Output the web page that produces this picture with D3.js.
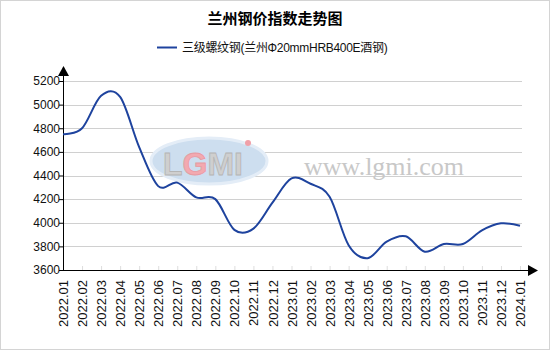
<!DOCTYPE html>
<html>
<head>
<meta charset="utf-8">
<script src="https://cdn.jsdelivr.net/npm/d3@7"></script>
<style>
  body { margin: 0; background: #fff; }
  svg { display: block; font-family: Arial, "Liberation Sans", "Noto Sans CJK SC", sans-serif; }
</style>
</head>
<body>
<div id="chart"></div>
<script>
const months = ["2022.01","2022.02","2022.03","2022.04","2022.05","2022.06","2022.07","2022.08",
  "2022.09","2022.10","2022.11","2022.12","2023.01","2023.02","2023.03","2023.04","2023.05",
  "2023.06","2023.07","2023.08","2023.09","2023.10","2023.11","2023.12","2024.01"];
const prices = [4750, 4800, 5075, 5065, 4640, 4310, 4340, 4215, 4200, 3940, 3950, 4170, 4375,
  4330, 4220, 3810, 3700, 3840, 3885, 3755, 3820, 3820, 3935, 3995, 3975];
const yTicks = [3600, 3800, 4000, 4200, 4400, 4600, 4800, 5000, 5200];
const seriesName = "三级螺纹钢(兰州Φ20mmHRB400E酒钢)";
const title = "兰州钢价指数走势图";

const width = 550, height = 350;
const x0 = 63, x1 = 520, yTop = 81, yBot = 270;

const svg = d3.select("#chart").append("svg")
  .attr("width", width)
  .attr("height", height);

svg.append("rect")
  .attr("x", 0.5).attr("y", 0.5)
  .attr("width", width - 1).attr("height", height - 1)
  .attr("fill", "#fff").attr("stroke", "#d4d4d4");

const x = d3.scalePoint().domain(months).range([x0, x1]);
const y = d3.scaleLinear().domain([3600, 5200]).range([yBot, yTop]);

// grid
svg.append("g")
  .selectAll("line")
  .data(yTicks.slice(1))
  .enter().append("line")
  .attr("x1", x0).attr("x2", 522)
  .attr("y1", d => Math.round(y(d)) + 0.5)
  .attr("y2", d => Math.round(y(d)) + 0.5)
  .attr("stroke", "#d0d0d0");

// watermark
const wm = svg.append("g");
wm.append("ellipse")
  .attr("cx", 209).attr("cy", 161).attr("rx", 58).attr("ry", 23)
  .attr("fill", "#cddeef").attr("stroke", "#e4edf7").attr("stroke-width", 3);
const logo = wm.append("text")
  .attr("x", 163).attr("y", 175)
  .attr("font-family", "Liberation Sans, Arial")
  .attr("font-weight", "bold")
  .attr("font-size", 32)
  .attr("stroke", "#b5b5b5")
  .attr("stroke-width", 0.8);
logo.append("tspan").attr("fill", "#cfcfcf").text("L");
logo.append("tspan").attr("fill", "#f3a9b0").attr("stroke", "#e79aa2").text("G");
logo.append("tspan").attr("fill", "#cfcfcf").text("MI");
wm.append("circle")
  .attr("cx", 248).attr("cy", 143).attr("r", 3)
  .attr("fill", "#f0a0a8");
wm.append("text")
  .attr("x", 304).attr("y", 175)
  .attr("font-family", "Liberation Serif, Times New Roman, serif")
  .attr("font-size", 26)
  .attr("fill", "#c8c8c8")
  .text("www.lgmi.com");

// axes
const yAxis = d3.axisLeft(y).tickValues(yTicks).tickSize(4).tickFormat(d3.format("d"));
const gy = svg.append("g")
  .attr("transform", `translate(${x0},0)`)
  .call(yAxis);
gy.select(".domain").remove();
gy.selectAll(".tick line").attr("stroke", "#000");
gy.selectAll(".tick text")
  .attr("x", -3)
  .attr("font-size", 12)
  .attr("fill", "#111");

const xAxis = d3.axisBottom(x).tickSize(4);
const gx = svg.append("g")
  .attr("transform", `translate(0,${yBot})`)
  .call(xAxis);
gx.select(".domain").remove();
gx.selectAll(".tick line").attr("stroke", "#ddd").attr("y2", -4);
gx.selectAll(".tick text")
  .attr("transform", "rotate(-90)")
  .attr("x", -10).attr("y", 0).attr("dy", "0.35em")
  .attr("text-anchor", "end")
  .attr("font-size", 13)
  .attr("fill", "#111");

svg.append("line")
  .attr("x1", x0 + 0.5).attr("x2", x0 + 0.5)
  .attr("y1", yBot).attr("y2", 72)
  .attr("stroke", "#000");
svg.append("path")
  .attr("d", `M${x0 + 0.5},66 L${x0 - 5},76 L${x0 + 6},76 Z`)
  .attr("fill", "#000");
svg.append("line")
  .attr("x1", x0).attr("x2", 530)
  .attr("y1", yBot + 0.5).attr("y2", yBot + 0.5)
  .attr("stroke", "#000");
svg.append("path")
  .attr("d", `M538,${yBot + 0.5} L528,${yBot - 5} L528,${yBot + 6} Z`)
  .attr("fill", "#000");

// series line
const line = d3.line()
  .x((d, i) => x(months[i]))
  .y(d => y(d))
  .curve(d3.curveCardinal.tension(0));

svg.append("path")
  .datum(prices)
  .attr("fill", "none")
  .attr("stroke", "#1e439e")
  .attr("stroke-width", 2)
  .attr("d", line);

// title and legend
svg.append("text")
  .attr("x", 275).attr("y", 24)
  .attr("text-anchor", "middle")
  .attr("font-size", 15)
  .attr("font-weight", "bold")
  .attr("fill", "#000")
  .text(title);

svg.append("line")
  .attr("x1", 157).attr("x2", 177)
  .attr("y1", 47.5).attr("y2", 47.5)
  .attr("stroke", "#1e439e").attr("stroke-width", 2);
svg.append("text")
  .attr("x", 182).attr("y", 52)
  .attr("font-size", 12)
  .attr("letter-spacing", -0.3)
  .attr("fill", "#111")
  .text(seriesName);
</script>
</body>
</html>
